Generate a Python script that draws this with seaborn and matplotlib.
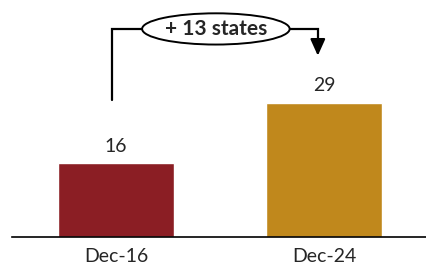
import matplotlib
matplotlib.use('Agg')
import matplotlib.pyplot as plt
import seaborn as sns
import pandas as pd

periods = ['Dec-16', 'Dec-24']
states = [16, 29]
bar_colors = ['#8B1E24', '#C0881C']
change_label = '+ 13 states'

df = pd.DataFrame({'period': periods, 'states': states})

sns.set_style('white')
plt.rcParams['font.family'] = ['Lato', 'DejaVu Sans']

fig = plt.figure(figsize=(4.26, 2.68), dpi=100)
ax = fig.add_axes([12 / 426, 31 / 268, 414 / 426, 237 / 268])

sns.barplot(data=df, x='period', y='states', hue='period', palette=bar_colors,
            width=0.56, legend=False, ax=ax, saturation=1)

ax.set_xlim(-0.5, 1.49)
ax.set_ylim(0, 51.2)
sns.despine(ax=ax, left=True)
ax.spines['bottom'].set_color('black')
ax.spines['bottom'].set_linewidth(1.2)
ax.set_yticks([])
ax.set_xlabel('')
ax.set_ylabel('')
ax.tick_params(axis='x', length=0, labelsize=14, pad=8)

for i, v in enumerate(states):
    ax.annotate(str(v), (i, v), xytext=(0, 6), textcoords='offset points',
                ha='center', va='bottom', fontsize=14)

# bracket showing the change
top = max(states) * 1.55
start = max(states) * 1.02
end = max(states) * 1.33
ax.plot([-0.02, -0.02, 0.97, 0.97], [start, top, top, end + 2.5], color='black', lw=1.6,
        solid_joinstyle='miter')
ax.annotate('', xy=(0.97, end), xytext=(0.97, end + 3.5),
            arrowprops=dict(arrowstyle='-|>,head_width=0.45,head_length=1.0',
                            color='black', lw=1.6))
ax.text(0.48, top, change_label, ha='center', va='center', fontsize=15,
        fontweight='bold',
        bbox=dict(boxstyle='ellipse,pad=0.05', fc='white', ec='black', lw=1.4))

fig.savefig('out.png', dpi=100)
